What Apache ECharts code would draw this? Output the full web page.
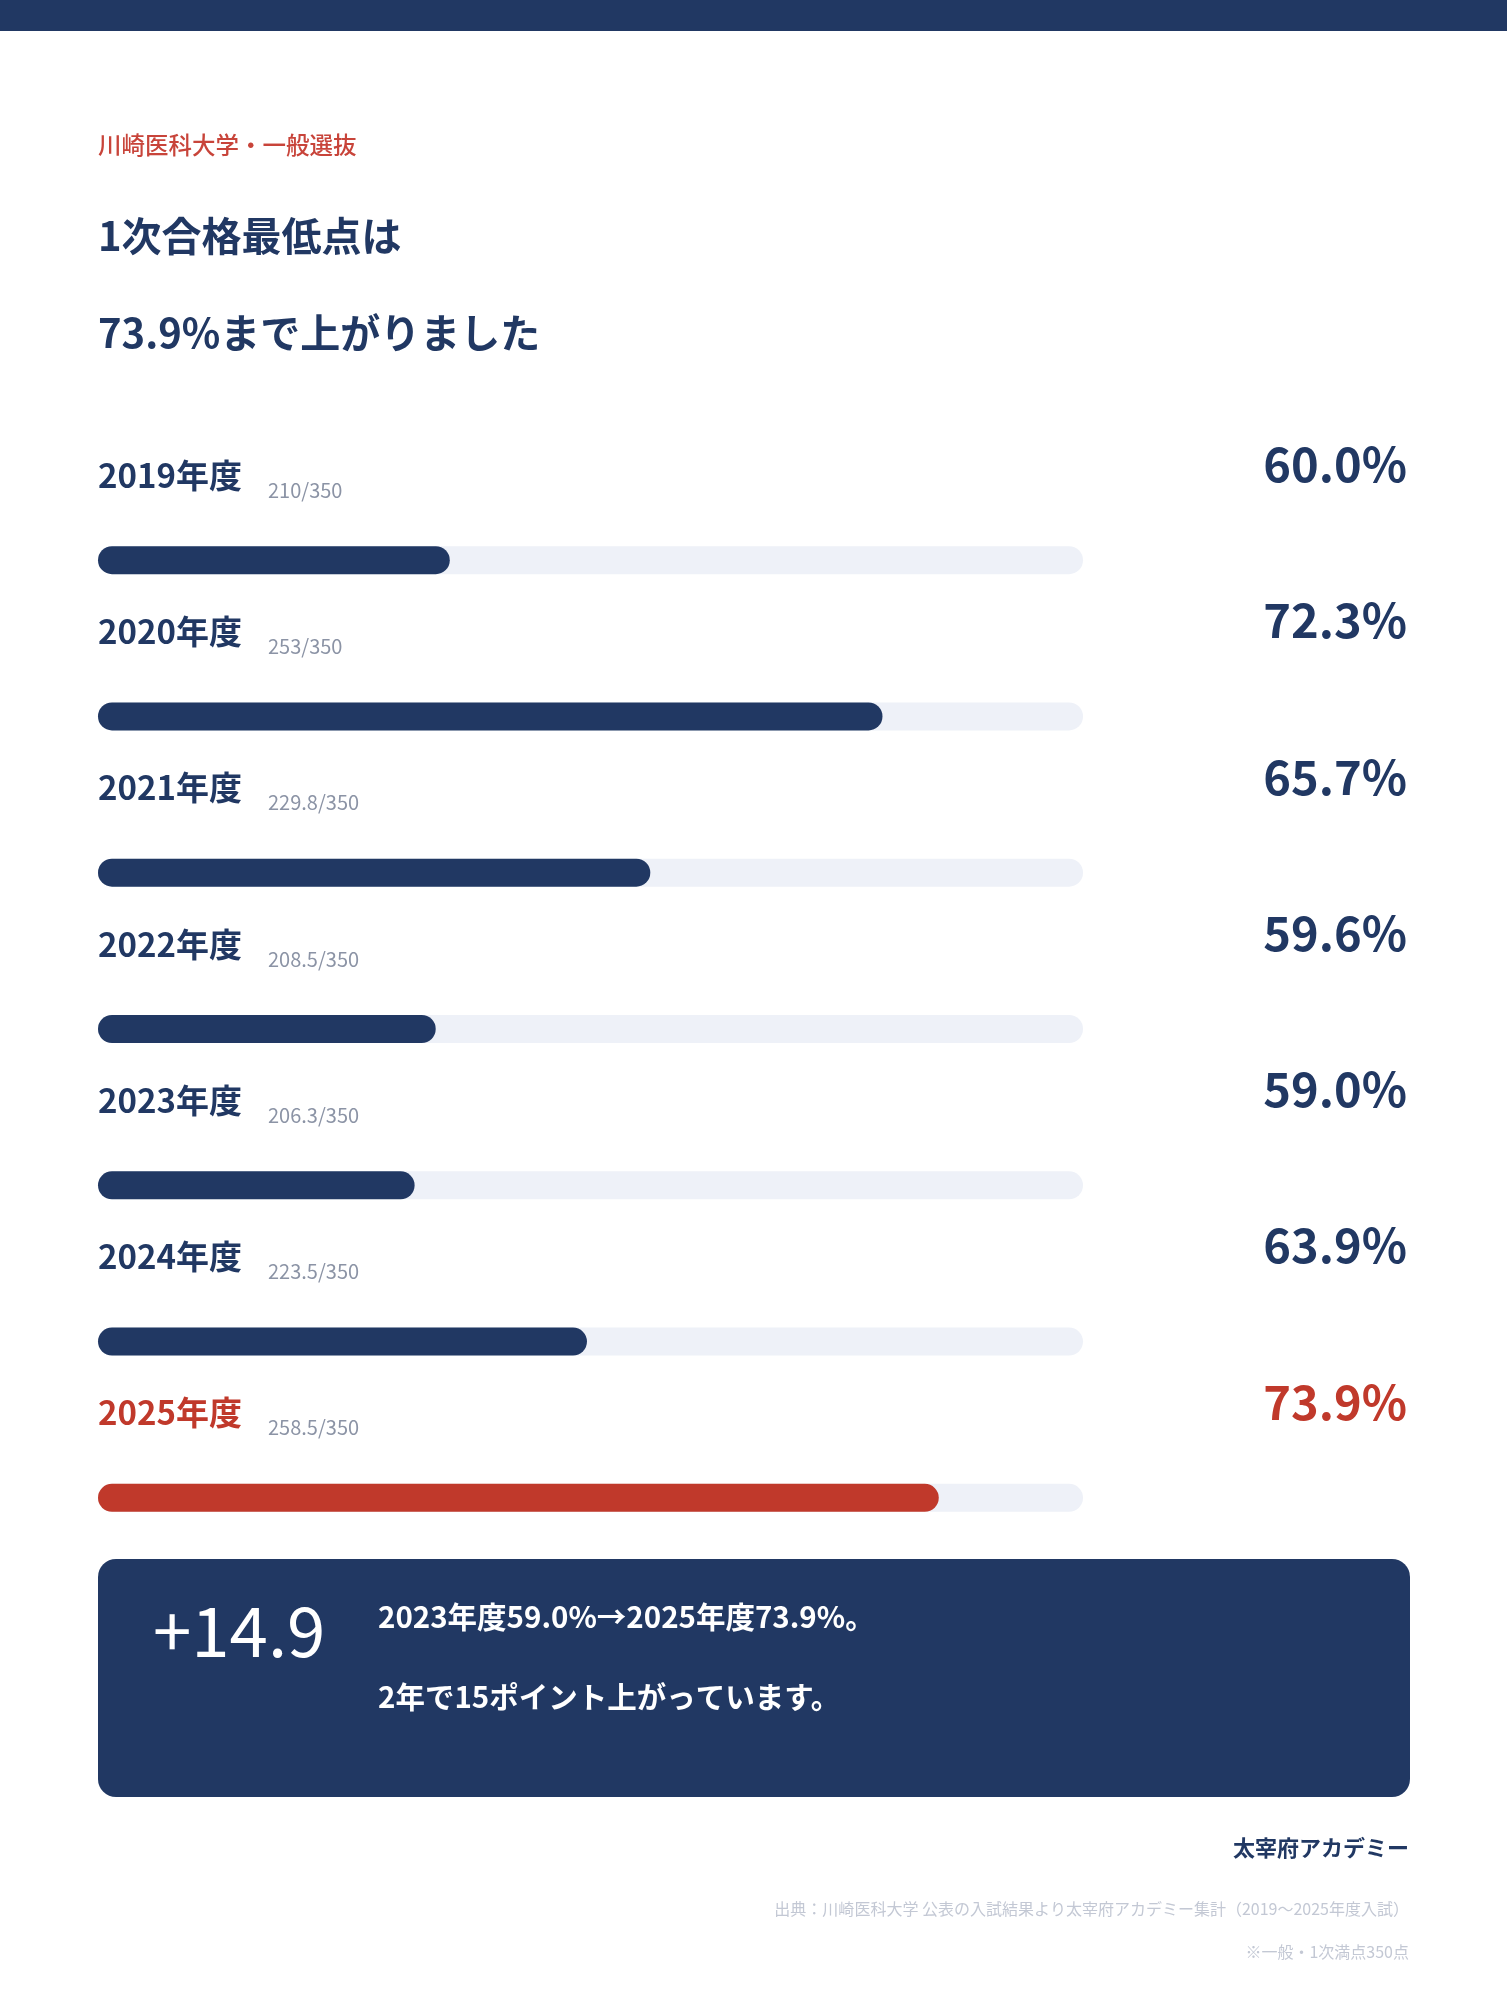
<!DOCTYPE html>
<html>
<head>
<meta charset="utf-8">
<script src="https://cdn.jsdelivr.net/npm/echarts@6/dist/echarts.min.js"></script>
<style>
  html, body { margin: 0; padding: 0; background: #fff; }
  #main { width: 1507px; height: 2000px; }
</style>
</head>
<body>
<div id="main"></div>
<script>
// data
const years = ['2019年度', '2020年度', '2021年度', '2022年度', '2023年度', '2024年度', '2025年度'];
const scores = [210, 253, 229.8, 208.5, 206.3, 223.5, 258.5];
const rates = [60.0, 72.3, 65.7, 59.6, 59.0, 63.9, 73.9];
const fullMark = 350;
const highlightYear = '2025年度';

const NAVY = '#213863';
const RED = '#c0392b';
const FONT = '"Noto Sans CJK JP", "Noto Sans", sans-serif';

const chart = echarts.init(document.getElementById('main'));

const colorOf = (i) => (years[i] === highlightYear ? RED : NAVY);

// text placed by its vertical centre
function text(x, cy, size, str, opts) {
  const o = opts || {};
  const el = {
    type: 'text',
    top: cy - size / 2,
    style: {
      text: str,
      font: (o.weight || 'normal') + ' ' + size + 'px ' + FONT,
      fill: o.color || NAVY
    }
  };
  if (o.right) el.right = x; else el.left = x;
  return el;
}

const option = {
  backgroundColor: '#ffffff',
  animation: false,
  textStyle: { fontFamily: FONT },
  grid: { left: 98, width: 985, top: 482, height: 1094 },
  xAxis: { type: 'value', min: 50, max: 78, show: false },
  yAxis: { type: 'category', data: years, inverse: true, show: false },
  series: [
    {
      // progress bars
      type: 'bar',
      barWidth: 28,
      barGap: '-100%',
      data: rates.map((v, i) => ({ value: v, itemStyle: { color: colorOf(i) } })),
      itemStyle: { borderRadius: 14 },
      showBackground: true,
      backgroundStyle: { color: '#eef1f8', borderRadius: 14 },
      z: 2
    },
    {
      // year label
      type: 'bar',
      barWidth: 28,
      barGap: '-100%',
      data: rates.map((v, i) => ({ value: v, label: { color: colorOf(i) } })),
      itemStyle: { color: 'transparent' },
      label: {
        show: true,
        position: [0, -71],
        align: 'left',
        verticalAlign: 'middle',
        fontFamily: FONT,
        fontSize: 33,
        fontWeight: 'bold',
        formatter: (p) => years[p.dataIndex]
      },
      z: 3
    },
    {
      // score label
      type: 'bar',
      barWidth: 28,
      barGap: '-100%',
      data: rates,
      itemStyle: { color: 'transparent' },
      label: {
        show: true,
        position: [170, -56],
        align: 'left',
        verticalAlign: 'middle',
        fontFamily: FONT,
        fontSize: 20,
        color: '#8b93a5',
        formatter: (p) => scores[p.dataIndex] + '/' + fullMark
      },
      z: 3
    },
    {
      // percent label
      type: 'bar',
      barWidth: 28,
      barGap: '-100%',
      data: rates.map((v, i) => ({ value: v, label: { color: colorOf(i) } })),
      itemStyle: { color: 'transparent' },
      label: {
        show: true,
        position: [1309, -82],
        align: 'right',
        verticalAlign: 'middle',
        fontFamily: FONT,
        fontSize: 47,
        fontWeight: 'bold',
        formatter: (p) => rates[p.dataIndex].toFixed(1) + '%'
      },
      z: 3
    }
  ],
  graphic: [
    { type: 'rect', left: 0, top: 0, shape: { width: 1507, height: 31 }, style: { fill: NAVY } },
    text(98, 145, 23.5, '川崎医科大学・一般選抜', { color: '#c8443a', weight: 500 }),
    text(98, 236, 40, '1次合格最低点は', { weight: 'bold' }),
    text(98, 333, 40, '73.9%まで上がりました', { weight: 'bold' }),
    {
      type: 'rect', left: 98, top: 1559,
      shape: { width: 1312, height: 238, r: 18 },
      style: { fill: NAVY }
    },
    text(153, 1631, 69, '+14.9', { color: '#ffffff' }),
    text(378, 1617, 29.5, '2023年度59.0%→2025年度73.9%。', { color: '#ffffff', weight: 'bold' }),
    text(378, 1697, 29.5, '2年で15ポイント上がっています。', { color: '#ffffff', weight: 'bold' }),
    text(98, 1848, 22, '太宰府アカデミー', { weight: 'bold', right: true }),
    text(98, 1909, 16, '出典：川崎医科大学 公表の入試結果より太宰府アカデミー集計（2019〜2025年度入試）', { color: '#c3c8d4', right: true }),
    text(98, 1952, 16, '※一般・1次満点350点', { color: '#c3c8d4', right: true })
  ]
};

chart.setOption(option);
window.addEventListener('resize', () => chart.resize());
</script>
</body>
</html>
